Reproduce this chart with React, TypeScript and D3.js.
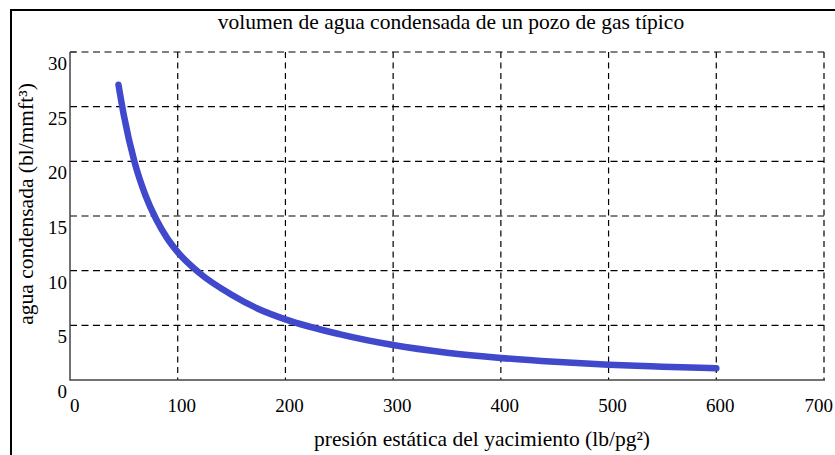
import React, { useEffect, useRef } from "react";
import * as d3 from "d3";

const pressure = [45, 50, 60, 70, 80, 90, 100, 120, 150, 175, 200, 250, 300, 350, 400, 450, 500, 550, 600];
const water = [27.0, 24.2, 19.9, 16.9, 14.7, 13.0, 11.7, 9.8, 7.8, 6.5, 5.55, 4.2, 3.2, 2.5, 2.02, 1.67, 1.4, 1.22, 1.07];
const xTicks = [0, 100, 200, 300, 400, 500, 600, 700];
const yTicks = [0, 5, 10, 15, 20, 25, 30];
const title = "volumen de agua condensada de un pozo de gas típico";
const xLabel = "presión estática del yacimiento (lb/pg²)";
const yLabel = "agua condensada (bl/mmft³)";

const W = 835, H = 455;
const L = 70, R = 824, T = 52, B = 380;

export default function App() {
  const ref = useRef<SVGSVGElement>(null);
  useEffect(() => {
    const svg = d3.select(ref.current);
    svg.selectAll("*").remove();
    const x = d3.scaleLinear().domain([0, 700]).range([L, R]);
    const y = d3.scaleLinear().domain([0, 30]).range([B, T]);
    const font = "'Liberation Serif', 'Times New Roman', serif";

    svg.append("rect").attr("width", W).attr("height", H).attr("fill", "#fff");
    // outer frame
    svg.append("path").attr("d", `M11,${H} L11,10 L${W},10`).attr("fill", "none").attr("stroke", "#000").attr("stroke-width", 2);

    svg.append("text").attr("x", 451).attr("y", 29).attr("text-anchor", "middle")
      .attr("font-family", font).attr("font-size", 21.5).attr("fill", "#000").text(title);

    // grid
    const g = svg.append("g");
    xTicks.filter(t => t > 0).forEach(t => {
      g.append("line").attr("x1", x(t)).attr("x2", x(t)).attr("y1", T).attr("y2", B)
        .attr("stroke", "#000").attr("stroke-width", 1.2).attr("stroke-dasharray", "6,4.5");
    });
    yTicks.filter(t => t > 0).forEach(t => {
      g.append("line").attr("x1", L).attr("x2", R).attr("y1", y(t)).attr("y2", y(t))
        .attr("stroke", "#000").attr("stroke-width", 1.2).attr("stroke-dasharray", "7,4.5");
    });
    // axes
    svg.append("path").attr("d", `M${L},${T} L${L},${B} L${R + 1},${B}`).attr("fill", "none")
      .attr("stroke", "#444").attr("stroke-width", 1.5);
    svg.append("line").attr("x1", L).attr("x2", L + 6).attr("y1", T).attr("y2", T).attr("stroke", "#444").attr("stroke-width", 1.5);

    // y tick labels
    yTicks.forEach(t => {
      svg.append("text").attr("x", 67).attr("y", y(t) + 18).attr("text-anchor", "end")
        .attr("font-family", font).attr("font-size", 19).attr("fill", "#000").text(String(t));
    });
    // x tick labels
    xTicks.forEach(t => {
      let anchor = "middle", xx = x(t) + 4;
      if (t === 0) { anchor = "start"; xx = x(t); }
      if (t === 700) { anchor = "end"; xx = 833; }
      svg.append("text").attr("x", xx).attr("y", 412).attr("text-anchor", anchor)
        .attr("font-family", font).attr("font-size", 19).attr("fill", "#000").text(String(t));
    });

    svg.append("text").attr("x", 482).attr("y", 446).attr("text-anchor", "middle")
      .attr("font-family", font).attr("font-size", 21.5).attr("fill", "#000").text(xLabel);
    svg.append("text").attr("transform", `translate(33,204) rotate(-90)`).attr("text-anchor", "middle")
      .attr("font-family", font).attr("font-size", 21.5).attr("fill", "#000").text(yLabel);

    const data = pressure.map((p, i) => [p, water[i]] as [number, number]);
    const line = d3.line<[number, number]>().x(d => x(d[0])).y(d => y(d[1])).curve(d3.curveMonotoneX);
    svg.append("path").datum(data).attr("d", line).attr("fill", "none")
      .attr("stroke", "#4048cc").attr("stroke-width", 6.5).attr("stroke-linecap", "round").attr("stroke-linejoin", "round");
  }, []);
  return (
    <svg ref={ref} width={W} height={H} style={{ position: "absolute", left: 0, top: 0 }} />
  );
}
